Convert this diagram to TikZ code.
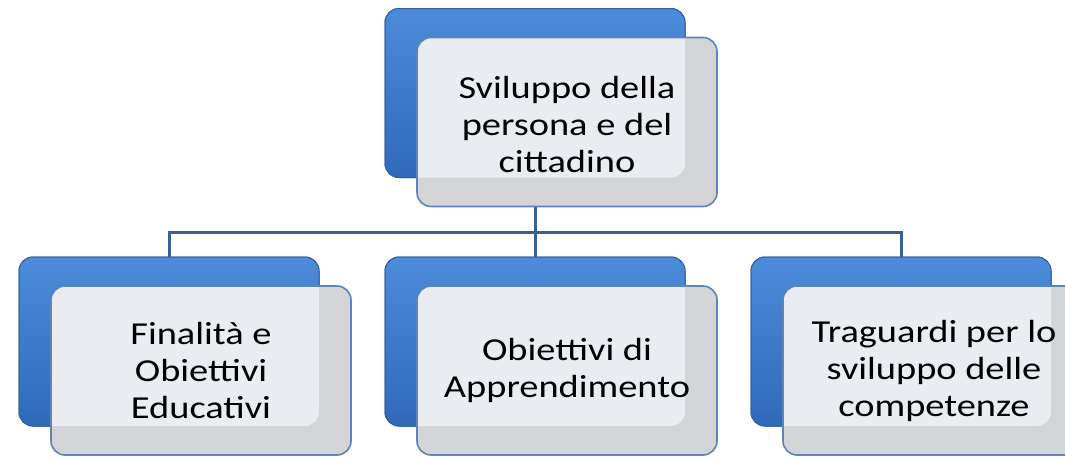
\documentclass[tikz,border=0pt]{standalone}
\usepackage{fontspec}
\setmainfont{Carlito}[FakeStretch=1.2]
\definecolor{bluetop}{HTML}{4C8CDB}
\definecolor{bluebot}{HTML}{3069BA}
\definecolor{blueedge}{HTML}{2F5F9E}
\definecolor{greyband}{HTML}{D3D4D6}
\definecolor{lightfill}{HTML}{E9ECF1}
\definecolor{wedge}{HTML}{5E84B8}
\definecolor{connc}{HTML}{3A6093}
\tikzset{
  bluebox/.style={rectangle, rounded corners=14pt, minimum width=300pt, minimum height=169pt,
    outer sep=0pt, top color=bluetop, bottom color=bluebot, draw=blueedge, line width=1pt},
  whitebox/.style={rectangle, rounded corners=14pt, minimum width=300pt, minimum height=169pt,
    outer sep=0pt, fill=greyband},
  wborder/.style={draw=wedge, line width=1.6pt, rounded corners=14pt},
  lbl/.style={align=center, font=\fontsize{32}{37}\selectfont, text=black},
  conn/.style={draw=connc, line width=3pt}
}
\newcommand\boxpair[6]{%
  \node[bluebox] (#1b) at (#2,#3) {};
  \node[whitebox] (#1w) at ($(#2,#3)+(32,29)$) {};
  \begin{scope}
    \clip[rounded corners=14pt] (#1w.north west) rectangle (#1w.south east);
    \fill[lightfill, rounded corners=14pt] (#1b.north west) rectangle (#1b.south east);
  \end{scope}
  \draw[wborder] (#1w.north west) rectangle (#1w.south east);
  \node[lbl] (#1t) at ($(#1w.center)+(#4,#5)$) {#6};
}
\usetikzlibrary{calc}
\begin{document}
\begin{tikzpicture}[x=1pt,y=-1pt]
\useasboundingbox (0,0) rectangle (1065,458);
\fill[white] (0,0) rectangle (1065,458);
% connectors
\coordinate (j) at (535,232);
\node[bluebox] (tb) at (535,93) {};
\node[bluebox] (lb) at (169,341.5) {};
\node[bluebox] (mb) at (535,341.5) {};
\node[bluebox] (rb) at (901,341.5) {};
\draw[conn] (tb.south) -- (j);
\draw[conn] (lb.north) |- (j) -| (rb.north);
\draw[conn] (j) -- (mb.north);
% boxes
\boxpair{t}{535}{93}{0}{3}{Sviluppo della\\persona e del\\cittadino}
\boxpair{l}{169}{341.5}{0}{0}{Finalità e\\Obiettivi\\Educativi}
\boxpair{m}{535}{341.5}{0}{0}{Obiettivi di\\Apprendimento}
\boxpair{r}{901}{341.5}{1}{0}{Traguardi per lo\\sviluppo delle\\competenze}
\end{tikzpicture}
\end{document}
